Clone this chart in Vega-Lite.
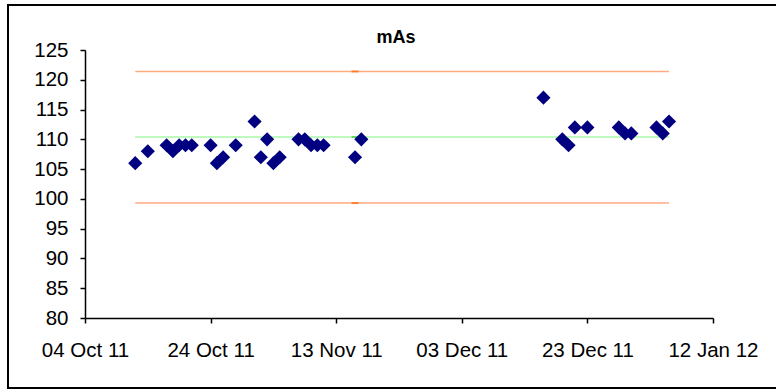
{
  "$schema": "https://vega.github.io/schema/vega-lite/v6.json",
  "width": 770,
  "height": 383,
  "autosize": {"type": "none"},
  "padding": {"left": 8, "top": 5, "right": 0, "bottom": 4},
  "background": "white",
  "config": {
    "view": {"stroke": "#000000", "strokeWidth": 2},
    "font": "Liberation Sans"
  },
  "title": {
    "text": "mAs",
    "fontSize": 18,
    "fontWeight": "bold",
    "font": "Liberation Sans",
    "color": "#000000",
    "anchor": "middle",
    "baseline": "alphabetic",
    "offset": -56,
    "dx": 3
  },
  "datasets": {
    "points": [
      {"date": "2011-10-12", "mAs": 106},
      {"date": "2011-10-14", "mAs": 108},
      {"date": "2011-10-17", "mAs": 109},
      {"date": "2011-10-18", "mAs": 108},
      {"date": "2011-10-19", "mAs": 109},
      {"date": "2011-10-20", "mAs": 109},
      {"date": "2011-10-21", "mAs": 109},
      {"date": "2011-10-24", "mAs": 109},
      {"date": "2011-10-25", "mAs": 106},
      {"date": "2011-10-26", "mAs": 107},
      {"date": "2011-10-28", "mAs": 109},
      {"date": "2011-10-31", "mAs": 113},
      {"date": "2011-11-01", "mAs": 107},
      {"date": "2011-11-02", "mAs": 110},
      {"date": "2011-11-03", "mAs": 106},
      {"date": "2011-11-04", "mAs": 107},
      {"date": "2011-11-07", "mAs": 110},
      {"date": "2011-11-08", "mAs": 110},
      {"date": "2011-11-09", "mAs": 109},
      {"date": "2011-11-10", "mAs": 109},
      {"date": "2011-11-11", "mAs": 109},
      {"date": "2011-11-16", "mAs": 107},
      {"date": "2011-11-17", "mAs": 110},
      {"date": "2011-12-16", "mAs": 117},
      {"date": "2011-12-19", "mAs": 110},
      {"date": "2011-12-20", "mAs": 109},
      {"date": "2011-12-21", "mAs": 112},
      {"date": "2011-12-23", "mAs": 112},
      {"date": "2011-12-28", "mAs": 112},
      {"date": "2011-12-29", "mAs": 111},
      {"date": "2011-12-30", "mAs": 111},
      {"date": "2012-01-03", "mAs": 112},
      {"date": "2012-01-04", "mAs": 111},
      {"date": "2012-01-05", "mAs": 113}
    ],
    "limits": [
      {"line": "Upper", "start": "2011-10-12", "end": "2012-01-05", "marker": "2011-11-16", "value": 121.4},
      {"line": "Mean", "start": "2011-10-12", "end": "2012-01-05", "marker": "2011-11-16", "value": 110.4},
      {"line": "Lower", "start": "2011-10-12", "end": "2012-01-05", "marker": "2011-11-16", "value": 99.3}
    ]
  },
  "layer": [
    {
      "data": {"name": "limits"},
      "mark": {"type": "rule", "strokeWidth": 1.5},
      "encoding": {
        "x": {
          "field": "start",
          "type": "temporal",
          "scale": {
            "type": "utc",
            "nice": false,
            "domain": [
              {"year": 2011, "month": 10, "date": 4, "utc": true},
              {"year": 2012, "month": 1, "date": 12, "utc": true}
            ],
            "range": [77, 705]
          },
          "axis": {
            "title": null,
            "grid": false,
            "offset": -70,
            "values": [
              {"year": 2011, "month": 10, "date": 4, "utc": true},
              {"year": 2011, "month": 10, "date": 24, "utc": true},
              {"year": 2011, "month": 11, "date": 13, "utc": true},
              {"year": 2011, "month": 12, "date": 3, "utc": true},
              {"year": 2011, "month": 12, "date": 23, "utc": true},
              {"year": 2012, "month": 1, "date": 12, "utc": true}
            ],
            "format": "%d %b %y",
            "domainColor": "#000000",
            "domainWidth": 1.5,
            "tickColor": "#000000",
            "tickWidth": 1.5,
            "tickSize": 5,
            "labelFont": "Liberation Sans",
            "labelFontSize": 20.5,
            "labelColor": "#000000",
            "labelPadding": 17,
            "labelFlush": false,
            "labelOverlap": false
          }
        },
        "x2": {"field": "end"},
        "y": {
          "field": "value",
          "type": "quantitative",
          "scale": {"domain": [80, 125], "range": [313, 45], "nice": false, "zero": false},
          "axis": {
            "title": null,
            "grid": false,
            "offset": -77,
            "values": [80, 85, 90, 95, 100, 105, 110, 115, 120, 125],
            "domainColor": "#000000",
            "domainWidth": 1.5,
            "tickColor": "#000000",
            "tickWidth": 1.5,
            "tickSize": 5,
            "labelFont": "Liberation Sans",
            "labelFontSize": 20.5,
            "labelColor": "#000000",
            "labelPadding": 12,
            "labelOverlap": false
          }
        },
        "color": {
          "field": "line",
          "type": "nominal",
          "scale": {"domain": ["Upper", "Mean", "Lower"], "range": ["#FFAA80", "#A8F8A8", "#FFAA80"]},
          "legend": null
        }
      }
    },
    {
      "data": {"name": "limits"},
      "mark": {"type": "tick", "orient": "horizontal", "size": 7, "thickness": 2},
      "encoding": {
        "x": {"field": "marker", "type": "temporal"},
        "y": {"field": "value", "type": "quantitative"},
        "color": {
          "field": "line",
          "type": "nominal",
          "scale": {"domain": ["Upper", "Mean", "Lower"], "range": ["#FF6600", "#33CC33", "#FF6600"]},
          "legend": null
        }
      }
    },
    {
      "data": {"name": "points"},
      "mark": {"type": "point", "shape": "diamond", "filled": true, "size": 200, "color": "#000080", "opacity": 1},
      "encoding": {
        "x": {"field": "date", "type": "temporal"},
        "y": {"field": "mAs", "type": "quantitative"}
      }
    }
  ],
  "resolve": {"scale": {"color": "independent"}}
}
